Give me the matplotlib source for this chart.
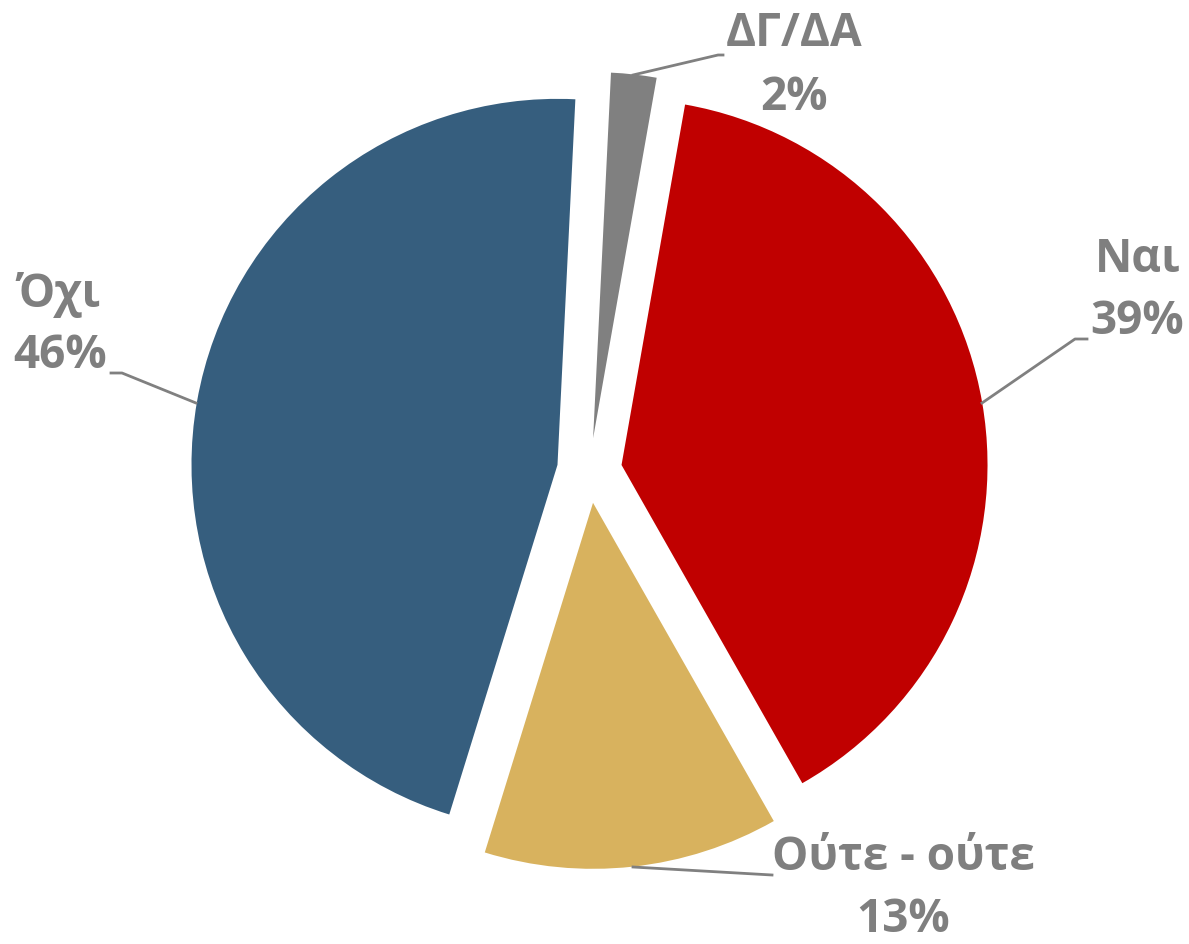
import matplotlib
matplotlib.use("Agg")
import matplotlib.pyplot as plt

labels = ["Ναι", "Ούτε - ούτε", "Όχι", "ΔΓ/ΔΑ"]
values = [39, 13, 46, 2]
colors = ["#C00000", "#D8B25E", "#365E7E", "#808080"]

W, H = 1189, 944
fig = plt.figure(figsize=(W / 100, H / 100), dpi=100)
ax = fig.add_axes([0, 0, 1, 1])

cx, cy = 589.5, H - 470.5
R = 366
ax.pie(values, colors=colors, startangle=80, counterclock=False,
       radius=R, center=(cx, cy), explode=[32.5] * 4,
       wedgeprops=dict(linewidth=0))
ax.set_xlim(0, W)
ax.set_ylim(0, H)
ax.set_aspect("equal")
ax.axis("off")

tc = "#7F7F7F"
font = dict(family="Open Sans", fontweight="bold", fontsize=33, color=tc,
            ha="center", va="center")

# label positions (pixel coords from top) and leader lines
lab_pos = {
    "Ναι": ((1138, 260), (1137, 322)),
    "Ούτε - ούτε": ((903, 858), (903, 920)),
    "Όχι": ((58, 294), (60, 355)),
    "ΔΓ/ΔΑ": ((794, 33), (794, 98)),
}
leaders = {
    "Ναι": [(982, 403), (1075, 339), (1087, 339)],
    "Ούτε - ούτε": [(633, 867), (772, 875)],
    "Όχι": [(196, 403), (122, 373), (111, 373)],
    "ΔΓ/ΔΑ": [(633, 75), (718, 55), (723, 55)],
}
for lab, v in zip(labels, values):
    (x1, y1), (x2, y2) = lab_pos[lab]
    ax.text(x1, H - y1, lab, **font)
    ax.text(x2, H - y2, f"{v}%", **font)
    pts = leaders[lab]
    ax.plot([p[0] for p in pts], [H - p[1] for p in pts], color="#808080", lw=2)

fig.savefig("out.png", dpi=100)
